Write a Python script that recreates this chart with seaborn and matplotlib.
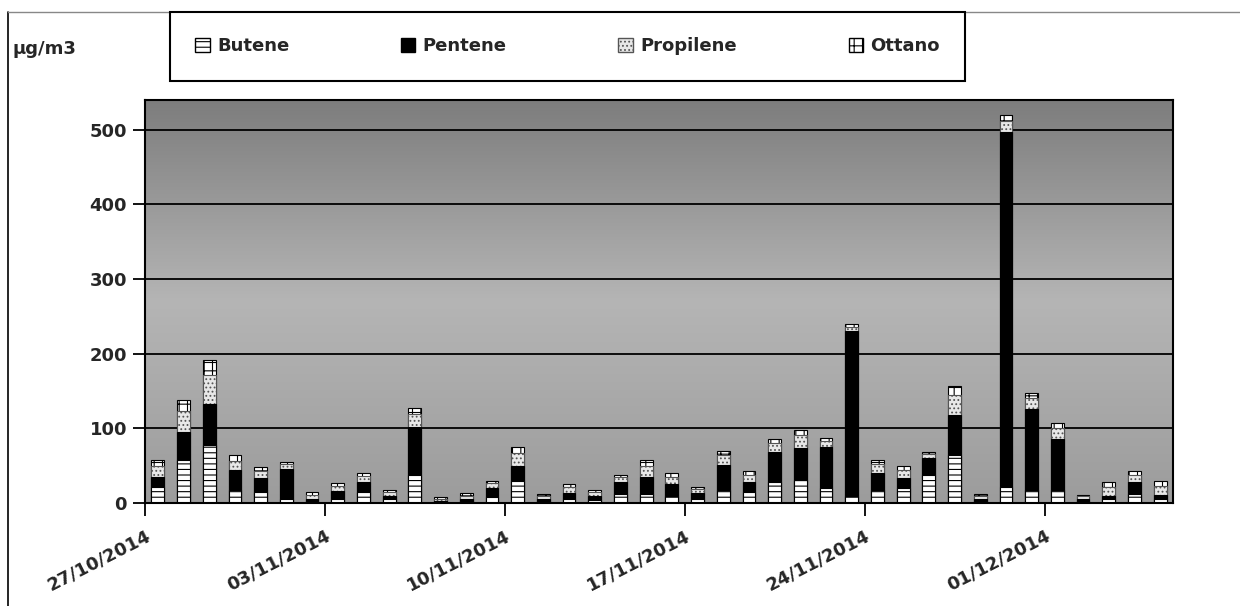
import numpy as np
import pandas as pd
import matplotlib
matplotlib.use('Agg')
import matplotlib.pyplot as plt
from matplotlib.patches import Patch
from matplotlib.lines import Line2D
from matplotlib.colors import LinearSegmentedColormap
import seaborn as sns

# Giorni di campionamento (27/10/2014 - 05/12/2014)
giorni = pd.date_range('2014-10-27', '2014-12-05', freq='D').strftime('%d/%m/%Y').tolist()

# Concentrazioni, µg/m3
butene = [22, 58, 78, 17, 15, 6, 3, 6, 15, 5, 38, 2, 3, 8, 30, 3, 6, 4, 12, 12,
          10, 6, 18, 15, 28, 31, 20, 10, 18, 20, 38, 64, 3, 22, 18, 18, 3, 6, 12, 6]
pentene = [13, 37, 54, 27, 19, 40, 2, 10, 13, 4, 64, 1, 2, 12, 20, 2, 8, 5, 16, 23,
           16, 7, 33, 13, 40, 43, 55, 220, 22, 14, 22, 54, 2, 475, 108, 68, 2, 4, 16, 5]
propilene = [15, 28, 40, 12, 9, 6, 6, 7, 8, 6, 17, 3, 5, 7, 17, 5, 7, 6, 7, 15,
             9, 6, 13, 10, 12, 17, 8, 6, 12, 10, 6, 27, 5, 15, 15, 14, 4, 12, 10, 12]
ottano = [8, 15, 20, 8, 5, 3, 4, 4, 4, 3, 8, 2, 3, 3, 8, 2, 4, 3, 3, 7,
          5, 3, 6, 5, 6, 7, 4, 4, 6, 5, 3, 12, 2, 8, 6, 7, 2, 6, 5, 6]

etichette_settimane = ['27/10/2014', '03/11/2014', '10/11/2014',
                       '17/11/2014', '24/11/2014', '01/12/2014']
y_ticks = [0, 100, 200, 300, 400, 500]

df = pd.DataFrame({'giorno': giorni, 'Butene': butene, 'Pentene': pentene,
                   'Propilene': propilene, 'Ottano': ottano})
serie = ['Butene', 'Pentene', 'Propilene', 'Ottano']
cum = df[serie].cumsum(axis=1)
cum['giorno'] = df['giorno']

# Stile (scansione in bianco e nero)
sns.set_style('white')
plt.rcParams['font.family'] = ['DejaVu Sans']
plt.rcParams['font.weight'] = 'bold'
plt.rcParams['hatch.linewidth'] = 0.8

stili = {
    'Butene': dict(color='white', edgecolor='black', hatch='---'),
    'Pentene': dict(color='black', edgecolor='black', hatch=None),
    'Propilene': dict(color='#e8e8e8', edgecolor='#555555', hatch='....'),
    'Ottano': dict(color='white', edgecolor='black', hatch='++'),
}

fig = plt.figure(figsize=(12.4, 6.06), dpi=100)
ax = fig.add_axes([145 / 1240, 1 - 503 / 606, (1173 - 145) / 1240, (503 - 100) / 606])

# sfondo sfumato dell'area del grafico
cmap_bg = LinearSegmentedColormap.from_list('bg', ['#7d7d7d', '#b5b5b5', '#9c9c9c'])
ax.imshow(np.linspace(0, 1, 256).reshape(-1, 1), cmap=cmap_bg, aspect='auto',
          extent=[0, 1, 0, 1], transform=ax.transAxes, zorder=0)

# barre sovrapposte: dal totale verso la base
for s in reversed(serie):
    st = stili[s]
    sns.barplot(data=cum, x='giorno', y=s, order=giorni, ax=ax, width=0.5,
                saturation=1, errorbar=None, color=st['color'],
                edgecolor=st['edgecolor'], hatch=st['hatch'], linewidth=0.8, zorder=2)

ax.set_xlim(-0.5, len(giorni) - 0.5)
ax.set_ylim(0, 540)
ax.set_xticks(np.arange(0, len(giorni), 7) - 0.5)
ax.set_xticklabels(etichette_settimane, rotation=27, ha='right',
                   rotation_mode='anchor', fontsize=13, fontweight='bold')
ax.set_yticks(y_ticks)
ax.set_yticklabels([str(v) for v in y_ticks], fontsize=13, fontweight='bold')
ax.tick_params(axis='both', direction='out', length=9, width=1.3, color='black',
               left=True, bottom=True, pad=4)
ax.tick_params(axis='x', pad=8)
ax.yaxis.grid(True, color='black', linewidth=1.3, zorder=1)
ax.set_axisbelow(True)
ax.set_xlabel('')
ax.set_ylabel('')
for sp in ax.spines.values():
    sp.set_color('black')
    sp.set_linewidth(1.5)
    sp.set_visible(True)

# legenda
handles = [Patch(facecolor=stili[s]['color'], edgecolor=stili[s]['edgecolor'],
                 hatch=stili[s]['hatch'], label=s) for s in serie]
leg = fig.legend(handles=handles, loc='upper left', ncol=4, mode='expand',
                 bbox_to_anchor=(170 / 1240, 0, 795 / 1240, 1 - 12 / 606),
                 borderaxespad=0, borderpad=1.4, handlelength=0.8, handleheight=0.8,
                 handletextpad=0.4, fancybox=False, framealpha=1,
                 prop={'weight': 'bold', 'size': 13})
leg.get_frame().set_edgecolor('black')
leg.get_frame().set_linewidth(1.5)

fig.text(12 / 1240, 1 - 49 / 606, 'µg/m3', fontsize=13, fontweight='bold',
         ha='left', va='center')

# cornice esterna del grafico
fig.add_artist(Line2D([8 / 1240, 8 / 1240], [0, 1 - 12 / 606], transform=fig.transFigure,
                      color='black', linewidth=1.2))
fig.add_artist(Line2D([8 / 1240, 1], [1 - 12 / 606, 1 - 12 / 606], transform=fig.transFigure,
                      color='#888888', linewidth=1))

fig.savefig('out.png', dpi=100, facecolor='white')
